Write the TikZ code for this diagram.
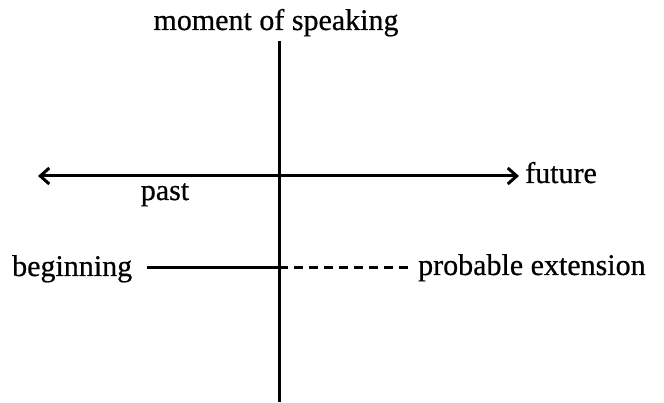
\documentclass[tikz,border=0pt]{standalone}
\usepackage{fontspec}
\setmainfont{Liberation Serif}[FakeBold=0.6]
\usetikzlibrary{arrows.meta}
\begin{document}
\begin{tikzpicture}[x=1pt,y=-1pt,
  lbl/.style={font=\fontsize{30}{34}\selectfont, inner sep=0pt},
  axis/.style={line width=3pt},
  tip/.style={-{Straight Barb[length=9pt,width=16pt,line width=3pt]}}]
\useasboundingbox (0,0) rectangle (664,403);
\coordinate (top) at (279,41);
\coordinate (bot) at (279,402);
\coordinate (now) at (279,176);
\coordinate (lft) at (38,176);
\coordinate (rgt) at (519,176);
\coordinate (mid) at (279,268);
\coordinate (bs) at (147,268);
\coordinate (de) at (410,268);
\node[lbl, anchor=base] (mos) at (276,30) {moment of speaking};
\node[lbl, anchor=base west] (fut) at (525,183) {future};
\node[lbl, anchor=base] (past) at (165,200) {past};
\node[lbl, anchor=base west] (beg) at (12,276) {beginning};
\node[lbl, anchor=base west] (ext) at (418,275) {probable extension};
\draw[axis] (top) -- (bot);
\draw[axis, tip] (now) -- (lft);
\draw[axis, tip] (now) -- (rgt);
\draw[axis] (bs) -- (mid);
\draw[axis, dash pattern=on 9pt off 6pt] (mid) -- (de);
\end{tikzpicture}
\end{document}
